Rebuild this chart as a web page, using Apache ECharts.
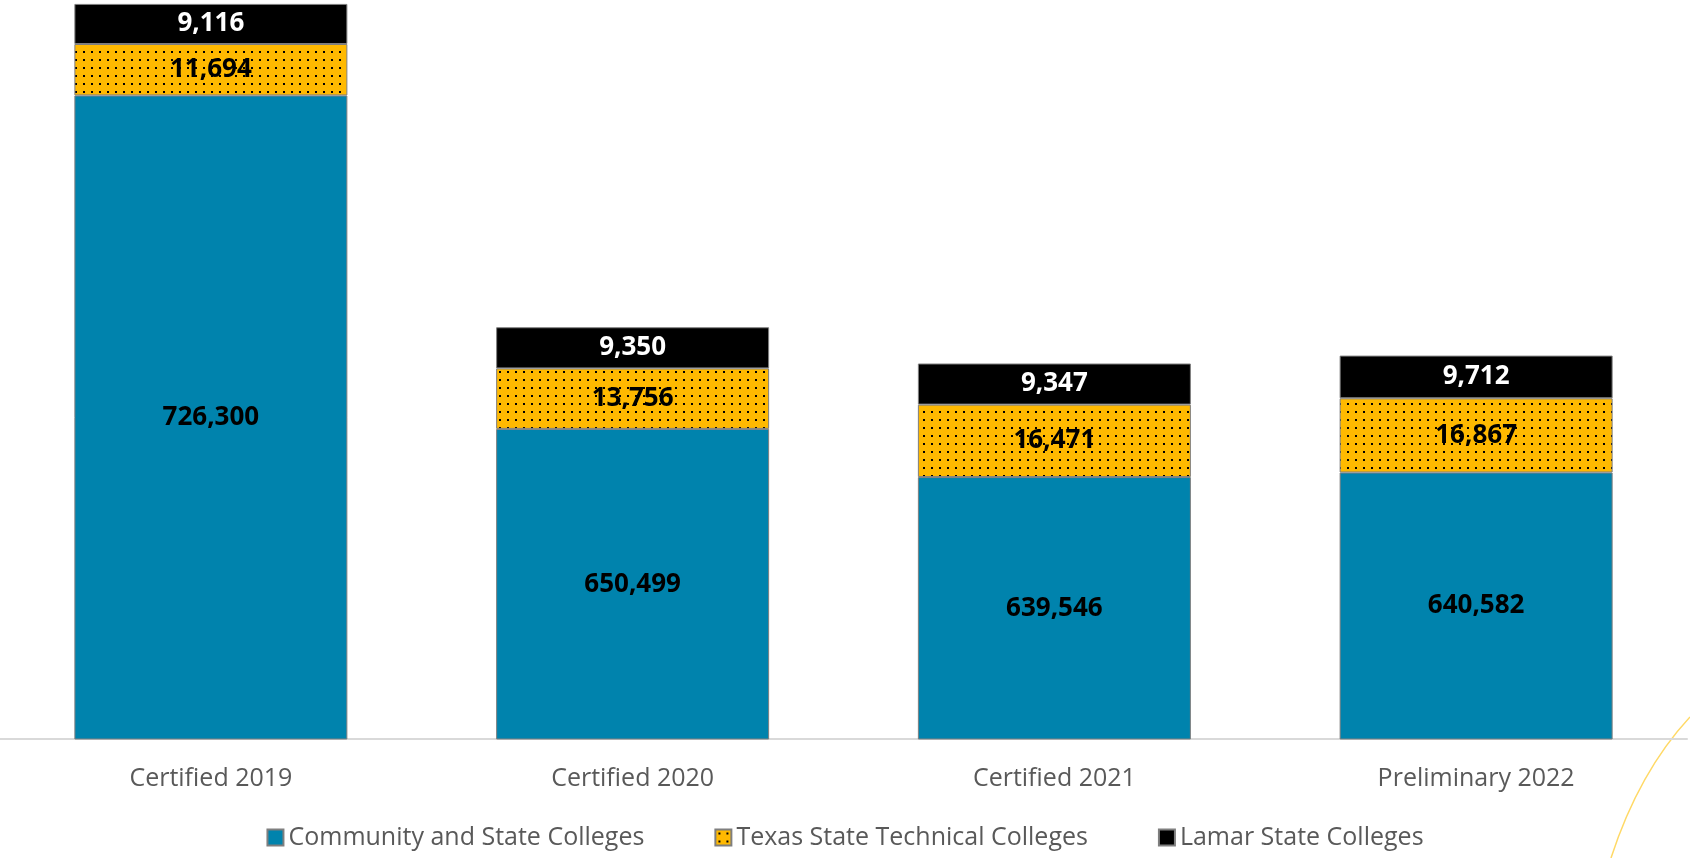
<!DOCTYPE html>
<html>
<head>
<meta charset="utf-8">
<script src="https://cdn.jsdelivr.net/npm/echarts@6/dist/echarts.min.js"></script>
<style>
  html, body { margin: 0; padding: 0; background: #fff; }
  #chart { width: 1690px; height: 858px; }
</style>
</head>
<body>
<div id="chart"></div>
<script>
var categories = ['Certified 2019', 'Certified 2020', 'Certified 2021', 'Preliminary 2022'];
var community = [726300, 650499, 639546, 640582];
var technical = [11694, 13756, 16471, 16867];
var lamar = [9116, 9350, 9347, 9712];

// dotted yellow fill
function dotPattern() {
  var c = document.createElement('canvas');
  c.width = 8;
  c.height = 8;
  var ctx = c.getContext('2d');
  ctx.fillStyle = '#ffb900';
  ctx.fillRect(0, 0, 8, 8);
  ctx.fillStyle = '#000';
  ctx.fillRect(3, 3, 2, 2);
  return { image: c, repeat: 'repeat' };
}

var myChart = echarts.init(document.getElementById('chart'));
var font = '"Open Sans", sans-serif';

function fmt(p) { return p.value.toLocaleString('en-US'); }

var labelStyle = { show: true, position: 'inside', formatter: fmt, color: '#000', fontSize: 26, fontWeight: 'bold', fontFamily: font };

var option = {
  animation: false,
  textStyle: { fontFamily: font },
  grid: { left: 0, right: 3, top: 0, bottom: 119 },
  legend: {
    bottom: 3,
    left: 'center',
    icon: 'rect',
    itemWidth: 16,
    itemHeight: 16,
    itemGap: 70,
    textStyle: { fontSize: 25, color: '#595959', fontFamily: font },
    data: ['Community and State Colleges', 'Texas State Technical Colleges', 'Lamar State Colleges']
  },
  xAxis: {
    type: 'category',
    data: categories,
    axisLine: { lineStyle: { color: '#d9d9d9', width: 2 } },
    axisTick: { show: false },
    axisLabel: { fontSize: 25, color: '#595959', margin: 27, fontFamily: font }
  },
  yAxis: {
    type: 'value',
    min: 580000,
    max: 748000,
    show: false,
    splitLine: { show: false }
  },
  series: [
    {
      name: 'Community and State Colleges',
      type: 'bar',
      stack: 'total',
      barWidth: 273,
      data: community,
      itemStyle: { color: '#0083ad', borderColor: '#7f7f7f', borderWidth: 1 },
      label: labelStyle
    },
    {
      name: 'Texas State Technical Colleges',
      type: 'bar',
      stack: 'total',
      data: technical,
      itemStyle: { color: dotPattern(), borderColor: '#7f7f7f', borderWidth: 1 },
      label: labelStyle
    },
    {
      name: 'Lamar State Colleges',
      type: 'bar',
      stack: 'total',
      data: lamar,
      itemStyle: { color: '#000', borderColor: '#7f7f7f', borderWidth: 1 },
      label: Object.assign({}, labelStyle, { color: '#fff' })
    }
  ],
  graphic: [
    {
      type: 'bezierCurve',
      silent: true,
      shape: { x1: 1690, y1: 717, cpx1: 1639, cpy1: 772, x2: 1611, y2: 858 },
      style: { stroke: '#ffd966', lineWidth: 1.5, fill: null }
    }
  ]
};

myChart.setOption(option);
</script>
</body>
</html>
